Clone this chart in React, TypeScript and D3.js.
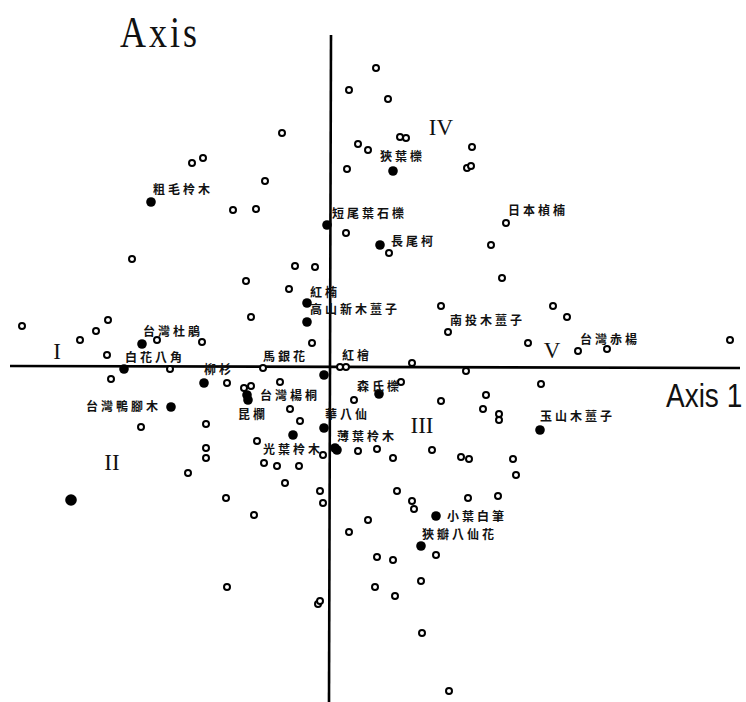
import React from 'react';
import * as d3 from 'd3';

// ordination scores, axis 1 / axis 2 (stand points, open circles)
const standPoints: [number, number][] = [
  [0.46, 2.99], [0.19, 2.77], [0.58, 2.68], [-0.48, 2.34], [-1.38, 2.04], [-1.27, 2.09],
  [-0.65, 1.86], [-0.97, 1.57], [-0.74, 1.58], [0.28, 2.23], [0.38, 2.17], [0.17, 1.98],
  [0.70, 2.30], [0.76, 2.29], [1.42, 2.20], [1.37, 1.99], [1.41, 2.01], [0.16, 1.34],
  [0.59, 1.14], [1.76, 1.44], [1.61, 1.22], [1.72, 0.89], [-1.98, 1.08], [-0.35, 1.01],
  [-0.15, 1.00], [-0.84, 0.86], [-0.41, 0.78], [-0.79, 0.50], [-0.18, 0.24], [1.11, 0.61],
  [1.18, 0.35], [2.23, 0.61], [2.37, 0.50], [1.98, 0.24], [2.48, 0.16], [2.77, 0.18],
  [4.00, 0.27], [-3.08, 0.41], [-2.22, 0.47], [-2.34, 0.36], [-2.50, 0.27], [-1.73, 0.27],
  [-1.28, 0.25], [-2.23, 0.12], [-1.60, -0.02], [-0.67, -0.01], [0.10, 0.0], [0.16, 0.0],
  [0.82, 0.04], [1.36, -0.04], [2.11, -0.17], [-2.19, -0.12], [-1.03, -0.16], [-0.50, -0.15],
  [-0.86, -0.21], [-0.79, -0.19], [0.71, -0.15], [0.24, -0.33], [-0.40, -0.42], [-0.30, -0.54],
  [1.11, -0.34], [1.56, -0.28], [1.53, -0.42], [1.69, -0.47], [1.69, -0.53], [-1.89, -0.60],
  [-1.24, -0.57], [-0.73, -0.74], [-0.07, -0.88], [0.28, -0.84], [0.47, -0.82], [0.63, -0.91],
  [1.02, -0.83], [1.31, -0.90], [1.39, -0.92], [1.83, -0.92], [1.86, -1.08], [-1.24, -0.81],
  [-1.24, -0.91], [-0.66, -0.96], [-0.53, -0.99], [-0.31, -0.99], [-1.42, -1.06], [-0.45, -1.16],
  [-0.10, -1.24], [-0.07, -1.36], [-1.04, -1.31], [-0.76, -1.48], [0.38, -1.53], [0.19, -1.65],
  [0.67, -1.24], [0.82, -1.34], [0.84, -1.42], [1.38, -1.31], [1.68, -1.29], [1.06, -1.88],
  [0.47, -1.90], [0.63, -1.93], [0.91, -2.14], [0.45, -2.20], [0.65, -2.29], [-1.03, -2.20],
  [-0.12, -2.37], [-0.10, -2.34], [0.92, -2.66], [1.19, -3.24],
];

// species scores (filled dots)
const speciesPoints: [number, number][] = [
  [-1.79, 1.65], [0.63, 1.96], [-0.03, 1.42], [0.50, 1.22], [-0.23, 0.64], [-0.23, 0.45],
  [-1.88, 0.23], [-2.06, -0.02], [-1.26, -0.16], [-0.06, -0.08], [-0.83, -0.28], [-0.82, -0.33],
  [-1.59, -0.40], [0.49, -0.27], [-0.06, -0.61], [-0.37, -0.68], [0.05, -0.81], [0.07, -0.83],
  [2.10, -0.63], [1.06, -1.49], [0.91, -1.79],
];
const outlierSpecies: [number, number][] = [[-2.59, -1.33]];

// species names, placed at [axis1, axis2]
const speciesLabels: [string, number, number][] = [
  ['粗毛柃木', -1.77, 1.79],
  ['狹葉櫟', 0.50, 2.12],
  ['短尾葉石櫟', 0.02, 1.55],
  ['長尾柯', 0.61, 1.27],
  ['日本楨楠', 1.78, 1.58],
  ['紅楠', -0.20, 0.76],
  ['高山新木薑子', -0.20, 0.59],
  ['南投木薑子', 1.20, 0.48],
  ['台灣赤楊', 2.50, 0.29],
  ['台灣杜鵑', -1.87, 0.37],
  ['白花八角', -2.05, 0.11],
  ['柳杉', -1.26, -0.01],
  ['馬銀花', -0.67, 0.12],
  ['紅檜', 0.12, 0.13],
  ['台灣楊桐', -0.70, -0.27],
  ['台灣鴨腳木', -2.44, -0.38],
  ['昆欄', -0.92, -0.46],
  ['森氏櫟', 0.27, -0.18],
  ['華八仙', -0.05, -0.46],
  ['薄葉柃木', 0.07, -0.68],
  ['光葉柃木', -0.67, -0.81],
  ['玉山木薑子', 2.10, -0.48],
  ['小葉白筆', 1.17, -1.48],
  ['狹瓣八仙花', 0.92, -1.66],
];

// vegetation groups
const groupLabels: [string, number, number][] = [
  ['I', -2.73, 0.16],
  ['II', -2.18, -0.95],
  ['III', 0.92, -0.58],
  ['IV', 1.11, 2.40],
  ['V', 2.22, 0.17],
];

const axis1Extent = [-3.2, 4.1];
const axis2Extent = [3.32, -3.35];

const W = 746;
const H = 702;

const App = () => {
  const x = d3.scaleLinear().domain([-3.3, 4.16]).range([0, W]);
  const y = d3.scaleLinear().domain([3.67, -3.35]).range([0, H]);

  const line = d3.line<[number, number]>().x(d => x(d[0])).y(d => y(d[1]));
  const hAxis = line([[axis1Extent[0], 0.01], [axis1Extent[1], -0.01]]) || '';
  const vAxis = line([[0.01, axis2Extent[0]], [-0.01, axis2Extent[1]]]) || '';

  return (
    <svg width={W} height={H} style={{ position: 'absolute', left: 0, top: 0, background: '#fff' }}>
      <rect width={W} height={H} fill="#fff" />
      <path d={hAxis} stroke="#000" strokeWidth={2.6} fill="none" />
      <path d={vAxis} stroke="#000" strokeWidth={2.6} fill="none" />

      {/* axis titles */}
      <text transform="translate(120,47) scale(1,1.25)" fontFamily="'Liberation Serif', serif"
        fontSize={36} letterSpacing={3} fill="#111">Axis</text>
      <text transform="translate(666,407) scale(1,1.2)" fontFamily="'Liberation Sans', Arial, sans-serif"
        fontSize={28} fill="#111">Axis 1</text>

      {standPoints.map((d, i) => (
        <circle key={'s' + i} cx={x(d[0])} cy={y(d[1])} r={3} fill="#fff" stroke="#000" strokeWidth={2} />
      ))}
      {speciesPoints.map((d, i) => (
        <circle key={'p' + i} cx={x(d[0])} cy={y(d[1])} r={4.8} fill="#000" />
      ))}
      {outlierSpecies.map((d, i) => (
        <circle key={'o' + i} cx={x(d[0])} cy={y(d[1])} r={5.8} fill="#000" />
      ))}

      {speciesLabels.map(([name, a, b]) => (
        <text key={name} x={x(a)} y={y(b)} dominantBaseline="central"
          fontFamily="'Noto Sans CJK TC', 'Noto Sans CJK SC', sans-serif" fontWeight="bold"
          fontSize={12} letterSpacing={3} fill="#111">{name}</text>
      ))}

      {groupLabels.map(([g, a, b]) => (
        <text key={g} x={x(a)} y={y(b)} textAnchor="middle" dominantBaseline="central"
          fontFamily="'Liberation Serif', 'DejaVu Serif', serif" fontSize={23} fill="#111">{g}</text>
      ))}
    </svg>
  );
};

export default App;
